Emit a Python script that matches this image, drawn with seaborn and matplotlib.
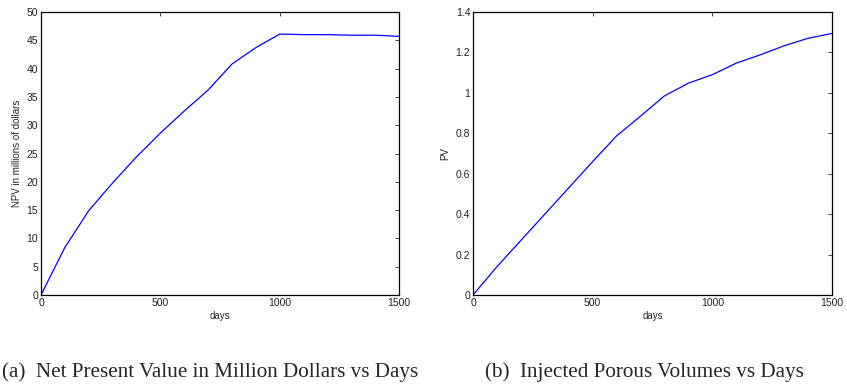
import matplotlib
matplotlib.use("Agg")
import matplotlib.pyplot as plt
import seaborn as sns
import pandas as pd

days = [0, 100, 200, 300, 400, 500, 600, 700, 800, 900, 1000, 1100, 1200, 1300, 1400, 1500]
npv_millions = [0, 8.4, 14.9, 19.8, 24.4, 28.6, 32.5, 36.2, 40.8, 43.7, 46.1, 46.0, 46.0, 45.9, 45.9, 45.7]
injected_pv = [0, 0.14, 0.27, 0.40, 0.53, 0.66, 0.787, 0.885, 0.985, 1.048, 1.09, 1.147, 1.188, 1.233, 1.27, 1.294]

npv_ticks = [0, 5, 10, 15, 20, 25, 30, 35, 40, 45, 50]
pv_ticks = [0, 0.2, 0.4, 0.6, 0.8, 1.0, 1.2, 1.4]
pv_ticklabels = ["0", "0.2", "0.4", "0.6", "0.8", "1", "1.2", "1.4"]
day_ticks = [0, 500, 1000, 1500]

sns.set_theme(style="white")
plt.rcParams["font.family"] = ["Liberation Sans", "DejaVu Sans"]

df = pd.DataFrame({"days": days, "npv": npv_millions, "pv": injected_pv})

fig = plt.figure(figsize=(8.47, 3.84), dpi=100)
ax1 = fig.add_axes([41 / 847, 1 - 295 / 384, 358 / 847, 283 / 384])
ax2 = fig.add_axes([473 / 847, 1 - 295 / 384, 359 / 847, 283 / 384])

sns.lineplot(data=df, x="days", y="npv", ax=ax1, color="#0000ff", linewidth=0.9)
sns.lineplot(data=df, x="days", y="pv", ax=ax2, color="#0000ff", linewidth=0.9)

for ax in (ax1, ax2):
    ax.set_xlim(0, 1500)
    ax.set_xticks(day_ticks)
    ax.set_xticklabels([str(t) for t in day_ticks])
    ax.set_xlabel("days", fontsize=7, labelpad=2)
    ax.tick_params(direction="in", length=3, width=0.6, top=True, right=True,
                   labelsize=7.5, pad=2, colors="#222222")
    for s in ax.spines.values():
        s.set_color("black")
        s.set_linewidth(0.9)

ax1.set_ylim(0, 50)
ax1.set_yticks(npv_ticks)
ax1.set_yticklabels([str(t) for t in npv_ticks])
ax1.set_ylabel("NPV in millions of dollars", fontsize=7, labelpad=3)

ax2.set_ylim(0, 1.4)
ax2.set_yticks(pv_ticks)
ax2.set_yticklabels(pv_ticklabels)
ax2.set_ylabel("PV", fontsize=7, labelpad=4)

cap_font = ["Liberation Serif", "DejaVu Serif"]
fig.text(2 / 847, 1 - 377 / 384, "(a)  Net Present Value in Million Dollars vs Days",
         family=cap_font, fontsize=15.2, va="baseline", ha="left")
fig.text(485 / 847, 1 - 377 / 384, "(b)  Injected Porous Volumes vs Days",
         family=cap_font, fontsize=15.2, va="baseline", ha="left")

fig.savefig("out.png", dpi=100)
